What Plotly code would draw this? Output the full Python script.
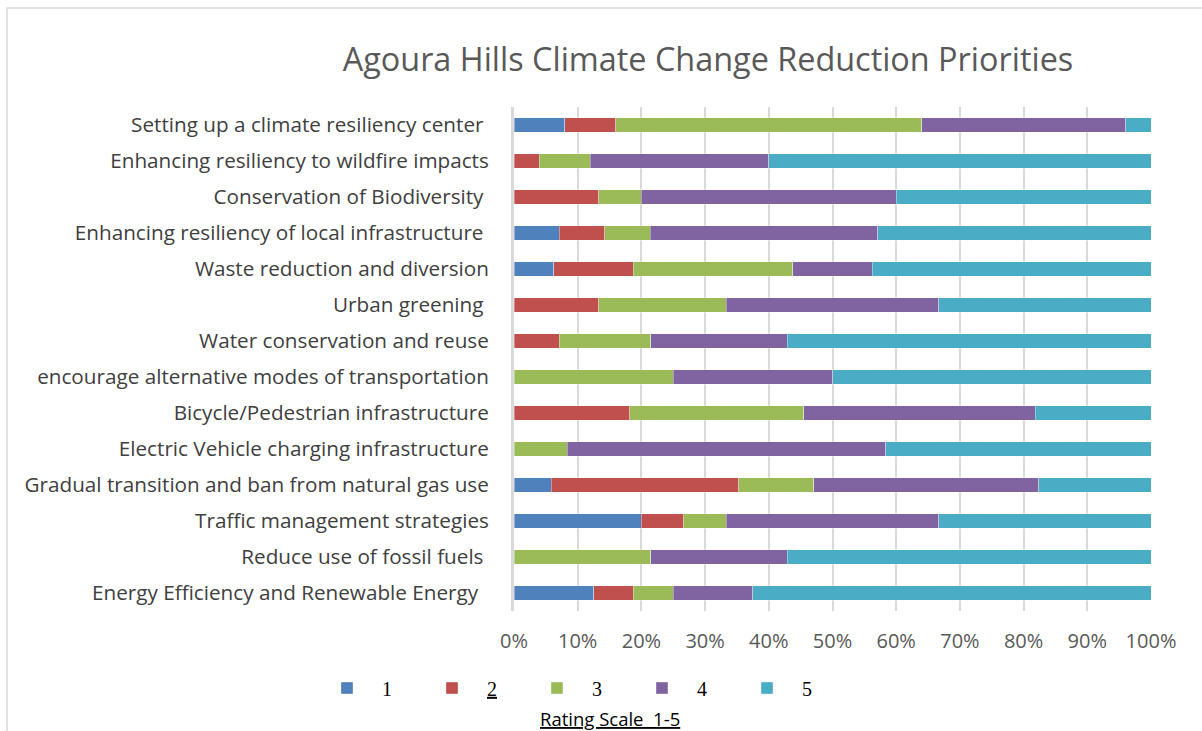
import plotly.graph_objects as go

# Survey items, listed top to bottom
categories = [
    "Setting up a climate resiliency center\u00a0",
    "Enhancing resiliency to wildfire impacts",
    "Conservation of Biodiversity\u00a0",
    "Enhancing resiliency of local infrastructure\u00a0",
    "Waste reduction and diversion",
    "Urban greening\u00a0",
    "Water conservation and reuse",
    "encourage alternative modes of transportation",
    "Bicycle/Pedestrian infrastructure",
    "Electric Vehicle charging infrastructure",
    "Gradual transition and ban from natural gas use",
    "Traffic management strategies",
    "Reduce use of fossil fuels\u00a0",
    "Energy Efficiency and Renewable Energy\u00a0\u00a0",
]

# Share of responses (%) for each rating, same order as categories
rating_1 = [8, 0, 0, 7.14, 6.25, 0, 0, 0, 0, 0, 5.88, 20, 0, 12.5]
rating_2 = [8, 4, 13.33, 7.14, 12.5, 13.33, 7.14, 0, 18.18, 0, 29.41, 6.67, 0, 6.25]
rating_3 = [48, 8, 6.67, 7.14, 25, 20, 14.29, 25, 27.27, 8.33, 11.76, 6.67, 21.43, 6.25]
rating_4 = [32, 28, 40, 35.72, 12.5, 33.33, 21.43, 25, 36.37, 50, 35.3, 33.33, 21.43, 12.5]
rating_5 = [4, 60, 40, 42.86, 43.75, 33.34, 57.14, 50, 18.18, 41.67, 17.65, 33.33, 57.14, 62.5]

series_names = ["\u00a0\u00a0 1", "\u00a0\u00a0 <u>2</u>", "\u00a0\u00a0 3",
                "\u00a0\u00a0 4", "\u00a0\u00a0 5"]
series_values = [rating_1, rating_2, rating_3, rating_4, rating_5]
colors = ["#4F81BD", "#C0504D", "#9BBB59", "#8064A2", "#4BACC6"]

x_ticks = list(range(0, 101, 10))
x_tick_labels = [f"{v}%" for v in x_ticks]

W, H = 1202, 731
ML, MR, MT, MB = 514, 51, 107, 120
PW, PH = W - ML - MR, H - MT - MB

label_font = "Open Sans, sans-serif"

fig = go.Figure()
for name, vals, col in zip(series_names, series_values, colors):
    fig.add_trace(go.Bar(
        y=categories, x=vals, name=name, orientation="h",
        marker=dict(color=col, line=dict(color="rgba(255,255,255,0.6)", width=0.6)),
    ))

def px_x(p):
    return (p - ML) / PW

def px_y(p):
    return (H - MB - p) / PH

fig.update_layout(
    width=W, height=H,
    margin=dict(l=ML, r=MR, t=MT, b=MB),
    barmode="stack",
    bargap=0.61,
    plot_bgcolor="white",
    paper_bgcolor="white",
    title=dict(
        text="Agoura Hills Climate Change Reduction Priorities",
        font=dict(family=label_font, size=32.4, color="#595959"),
        xref="container", yref="container",
        x=708 / W, xanchor="center", y=1 - 60 / H, yanchor="middle",
    ),
    xaxis=dict(
        range=[0, 100], tickvals=x_ticks, ticktext=x_tick_labels,
        showgrid=True, gridcolor="#D9D9D9", gridwidth=2,
        zeroline=False, showline=False,
        tickfont=dict(family=label_font, size=20, color="#595959"),
        ticks="", ticklabelstandoff=16,
    ),
    yaxis=dict(
        autorange="reversed", showgrid=False, zeroline=False,
        showline=True, linecolor="#D9D9D9", linewidth=3,
        tickfont=dict(family=label_font, size=20.7, color="#404040"),
        ticks="", ticklabelstandoff=18,
    ),
    legend=dict(
        orientation="h", xref="container", yref="container",
        x=327 / W, xanchor="left", y=1 - 688 / H, yanchor="middle",
        entrywidth=60, entrywidthmode="pixels",
        font=dict(family="Liberation Serif, Times New Roman, serif", size=20, color="#000000"),
        traceorder="normal", bgcolor="rgba(0,0,0,0)",
    ),
    showlegend=True,
    annotations=[dict(
        text="<u>Rating Scale  1-5</u>", showarrow=False,
        xref="paper", yref="paper", x=px_x(610), y=px_y(718),
        xanchor="center", yanchor="middle",
        font=dict(family=label_font, size=18.5, color="#000000"),
    )],
    shapes=[dict(
        type="rect", xref="paper", yref="paper",
        x0=px_x(7), x1=px_x(1260), y0=px_y(790), y1=px_y(8),
        line=dict(color="#D9D9D9", width=1.5), fillcolor="rgba(0,0,0,0)", layer="below",
    )],
)

fig.write_html("out.html")
